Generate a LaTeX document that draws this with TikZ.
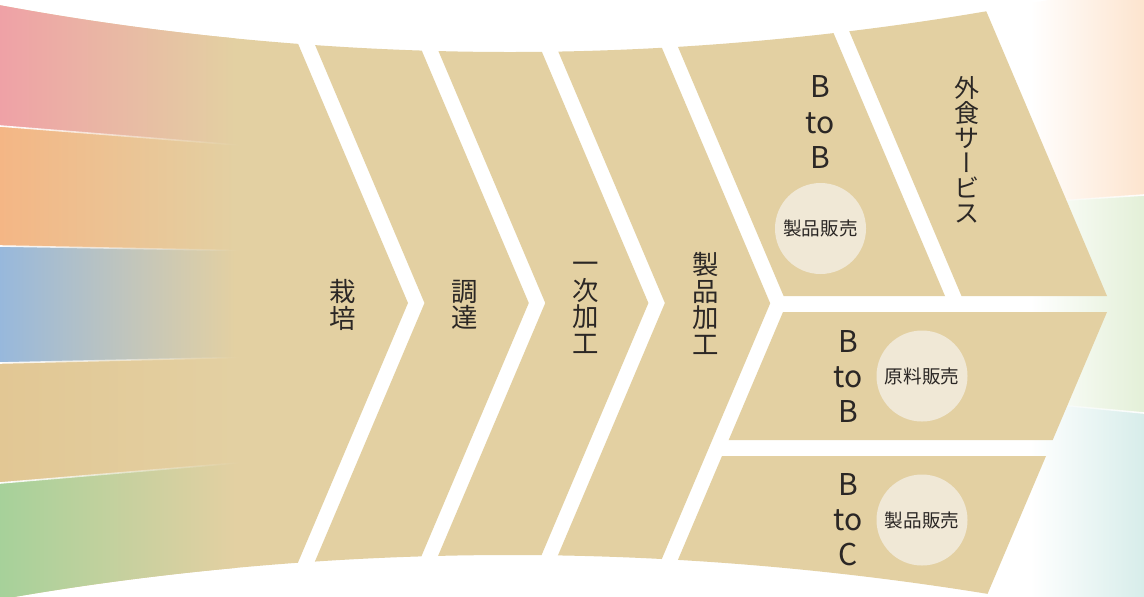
\documentclass[tikz,border=0pt]{standalone}
\usepackage{fontspec}
\setmainfont{Noto Sans CJK JP}
\newfontfamily\cjkvert[RawFeature={+vert}]{Noto Sans CJK JP}
\usetikzlibrary{fadings}
\setlength{\lineskiplimit}{-20pt}
\definecolor{lpink}{HTML}{EFA1A6}
\definecolor{lorange}{HTML}{F4B685}
\definecolor{lblue}{HTML}{97B8DC}
\definecolor{ltan}{HTML}{E2C794}
\definecolor{lgreen}{HTML}{A6D19A}
\definecolor{rpeach}{HTML}{FDE3CC}
\definecolor{rgreen}{HTML}{E2EFD6}
\definecolor{rblue}{HTML}{D5ECE9}
\definecolor{paneltan}{HTML}{E3D0A2}
\definecolor{circfill}{HTML}{F0E8D6}
\definecolor{ink}{HTML}{2B2725}
\begin{document}
\begin{tikzpicture}[x=0.5pt,y=-0.5pt,
  panel/.style={fill=paneltan},
  sepline/.style={white,line width=0.8pt},
  lbl/.style={text=ink,align=center,inner sep=0pt,
    font=\fontsize{13.2}{13.25}\selectfont},
  lblk/.style={text=ink,align=center,inner sep=0pt,
    font=\fontsize{12.5}{12.5}\selectfont},
  lat/.style={text=ink,align=center,inner sep=0pt,
    font=\fontsize{15}{17.6}\selectfont},
  circ/.style={circle,fill=circfill,text=ink,inner sep=0pt,minimum size=45.5pt,
    font=\fontsize{9.3}{10}\selectfont}]
\useasboundingbox (0,0) rectangle (1144,596);
\fill[white] (0,0) rectangle (1144,596);
\begin{scope}
\clip (-20,1.44) parabola bend (510,52) (1164,-25) -- (1164,628.1) parabola bend (510,555) (-20,603) -- cycle;
% right colour bands
\shade[left color=white,right color=rpeach] (1030,-50) -- (1150,-50) -- (1150,194.6) -- (1030,202.7) -- cycle;
\shade[left color=white,right color=rgreen] (1030,202.7) -- (1150,194.6) -- (1150,413.6) -- (1030,402.2) -- cycle;
\shade[left color=white,right color=rblue] (1030,402.2) -- (1150,413.6) -- (1150,650) -- (1030,650) -- cycle;
\draw[sepline,path fading=west] (1030,202.7) -- (1150,194.6);
\draw[sepline,path fading=west] (1030,402.2) -- (1150,413.6);
% chevrons
\fill[panel] (-20,-50) -- (258.3,-50) -- (408,303) -- (260.9,650) -- (-20,650) -- cycle;
\fill[panel] (274.8,-50) -- (379.1,-50) -- (528.8,303) -- (381.7,650) -- (277.4,650) -- (424.5,303) -- cycle;
\fill[panel] (395.6,-50) -- (498.7,-50) -- (648.4,303) -- (501.3,650) -- (398.2,650) -- (545.3,303) -- cycle;
\fill[panel] (515.2,-50) -- (620.4,-50) -- (770.2,303.3) -- (623.2,650) -- (517.8,650) -- (664.9,303) -- cycle;
% right panels
\fill[panel] (636.9,-50) -- (798.3,-50) -- (945,296) -- (783.6,296) -- cycle;
\fill[panel] (814.8,-50) -- (960.3,-50) -- (1107,296) -- (961.5,296) -- cycle;
\fill[panel] (783,312) -- (1107,312) -- (1052.7,440) -- (728.7,440) -- cycle;
\fill[panel] (722,456) -- (1046,456) -- (963.7,650) -- (639.7,650) -- cycle;
% left colour bands
\shade[left color=lpink,right color=paneltan] (-1,-50) -- (235,-50) -- (235,144.8) -- (-1,126) -- cycle;
\shade[left color=lorange,right color=paneltan] (-1,126) -- (235,144.8) -- (235,250.4) -- (-1,246) -- cycle;
\shade[left color=lblue,right color=paneltan] (-1,246) -- (235,250.4) -- (235,357.5) -- (-1,363) -- cycle;
\shade[left color=ltan,right color=paneltan] (-1,363) -- (235,357.5) -- (235,463.1) -- (-1,483) -- cycle;
\shade[left color=lgreen,right color=paneltan] (-1,483) -- (235,463.1) -- (235,650) -- (-1,650) -- cycle;
\draw[sepline,path fading=east] (-5,125.6) -- (240,145.2);
\draw[sepline,path fading=east] (-5,245.9) -- (240,250.5);
\draw[sepline,path fading=east] (-5,363.1) -- (240,357.4);
\draw[sepline,path fading=east] (-5,483.4) -- (240,462.7);
\end{scope}
% circles
\node[circ] (c1) at (820.5,228.5) {製品販売};
\node[circ] (c2) at (922,376) {原料販売};
\node[circ] (c3) at (922,520) {製品販売};
% labels
\node[lbl] (saibai) at (343,305) {栽\\培};
\node[lbl] (chotatsu) at (464.5,305) {調\\達};
\node[lbl] (ichiji) at (585.5,303) {\vphantom{国}一\\次\\加\\工};
\node[lbl] (seihin) at (706,303.5) {製\\品\\加\\工};
\node[lblk] (gaishoku) at (967,150) {外\\食\\サ\\{\cjkvert ー}\\ビ\\ス};
\node[lat] (btb1) at (820,122) {B\\to\\B};
\node[lat] (btb2) at (848,376.5) {B\\to\\B};
\node[lat] (btc) at (848,519.5) {B\\to\\C};
\end{tikzpicture}
\end{document}
